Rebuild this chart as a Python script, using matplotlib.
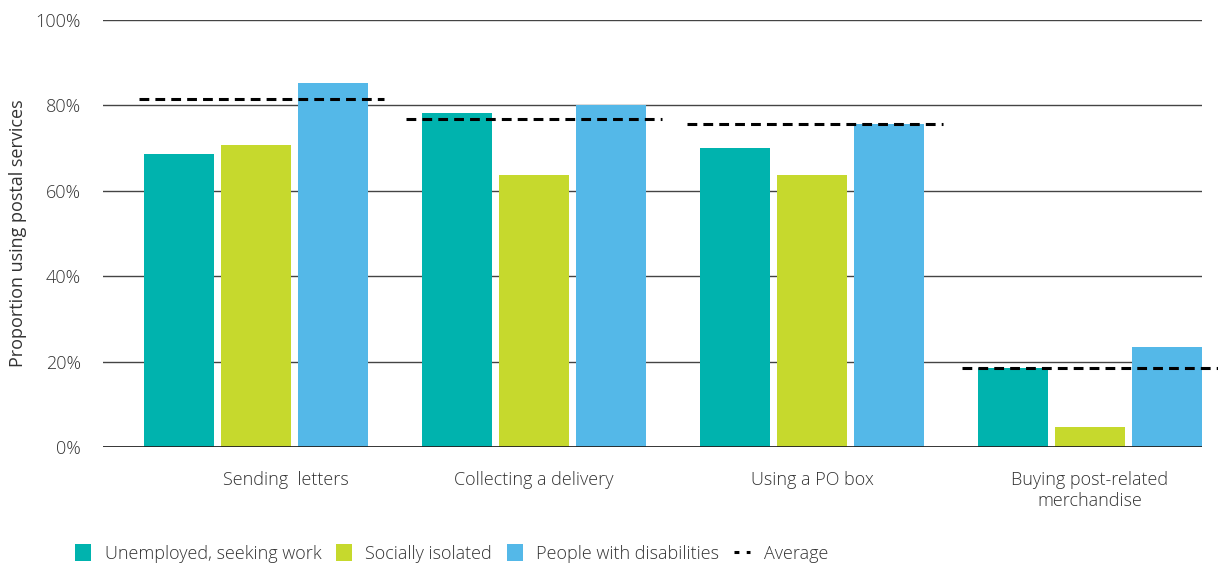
import numpy as np
import matplotlib
matplotlib.use("Agg")
import matplotlib.pyplot as plt
import matplotlib.transforms as mtransforms
from matplotlib.lines import Line2D
from matplotlib.patches import Patch

plt.rcParams['font.family'] = ['Open Sans', 'DejaVu Sans']
plt.rcParams['font.weight'] = 'light'

categories = ["Sending  letters", "Collecting a delivery", "Using a PO box",
              "Buying post-related\nmerchandise"]
series_names = ["Unemployed, seeking work", "Socially isolated", "People with disabilities"]
unemployed = [68.6, 78.2, 70.0, 18.6]
isolated = [70.7, 63.7, 63.7, 4.7]
disabled = [85.2, 80.0, 75.6, 23.4]
average = [81.5, 76.7, 75.6, 18.6]
yticks = [0, 20, 40, 60, 80, 100]

colors = ["#00b3ae", "#c6d92d", "#54b8e8"]
text_col = "#333333"
fs = 13

fig = plt.figure(figsize=(12.18, 5.66), dpi=100)
ax = fig.add_axes([0.0846, 0.2102, 0.9023, 0.7545])

x = np.arange(len(categories))
width = 0.252
step = 0.277
for k, (vals, col) in enumerate(zip([unemployed, isolated, disabled], colors)):
    ax.bar(x + (k - 1) * step, vals, width=width, color=col, zorder=3)

# average markers across each group
spans = [(-0.42, 0.46), (-0.46, 0.46), (-0.45, 0.47), (-0.46, 0.46)]
for xi, avg, (lo, hi) in zip(x, average, spans):
    ax.plot([xi + lo, xi + hi], [avg, avg], color="black", lw=2.2,
            dashes=(3.2, 2.0), zorder=4, clip_on=False)

ax.set_xlim(-0.55, 3.403)
ax.set_ylim(0, 100)
ax.set_yticks(yticks)
ax.set_yticklabels([f"{v}%" for v in yticks])
for v in yticks[1:]:
    ax.axhline(v, color="#444444", lw=1.0, zorder=1)
ax.axhline(0, color="#222222", lw=2.0, zorder=5)

for s in ax.spines.values():
    s.set_visible(False)
ax.tick_params(axis="both", length=0, labelsize=fs, colors=text_col)
ax.tick_params(axis="y", pad=16)
ax.tick_params(axis="x", pad=17)
ax.set_xticks(x)
ax.set_xticklabels(categories, va="top", linespacing=1.25)
# first label sits a little right of its group
lab0 = ax.get_xticklabels()[0]
lab0.set_transform(lab0.get_transform() + mtransforms.ScaledTranslation(0.3, 0, fig.dpi_scale_trans))

ax.set_ylabel("Proportion using postal services", fontsize=fs, color=text_col)
ax.yaxis.set_label_coords(-0.069, 0.5)

handles = [Patch(facecolor=c, edgecolor="none") for c in colors]
handles.append(Line2D([0], [0], color="black", lw=2.2, dashes=(1.6, 2.4)))
fig.legend(handles, series_names + ["Average"], loc="center left",
           bbox_to_anchor=(0.048, 0.022), ncol=4, frameon=False, fontsize=fs,
           handlelength=0.9, handleheight=1.1, handletextpad=0.75, columnspacing=0.8,
           labelcolor=text_col)

fig.savefig("out.png", dpi=100)
